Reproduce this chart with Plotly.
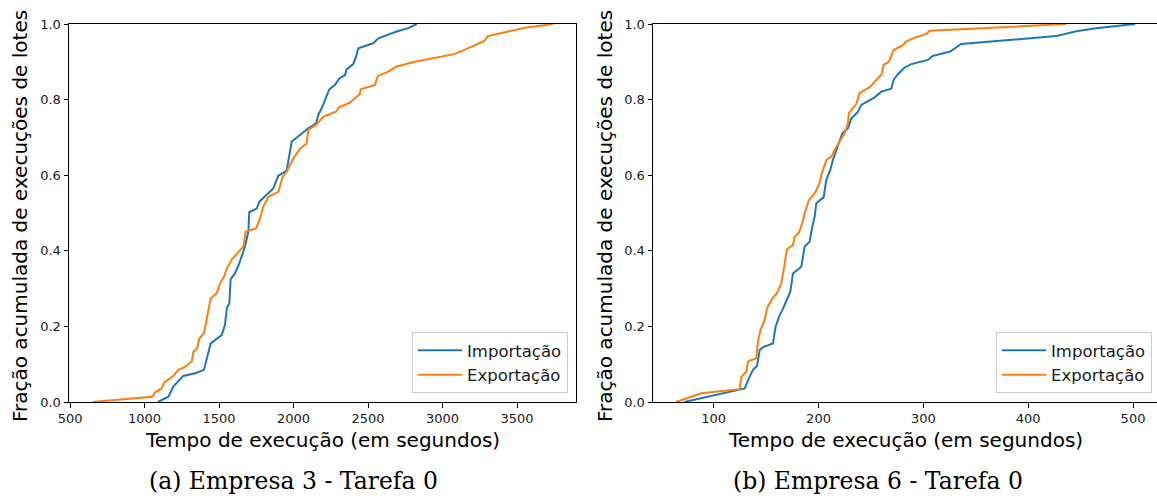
import plotly.graph_objects as go

# ---- Data ----
# (a) Empresa 3 - Tarefa 0
a_imp_x = [1090, 1160, 1193, 1260, 1340, 1399, 1421, 1444, 1518, 1540, 1552, 1569, 1578, 1607, 1636,
           1674, 1697, 1703, 1753, 1771, 1864, 1883, 1898, 1954, 1977, 1988, 2010, 2099, 2151, 2167,
           2189, 2218, 2240, 2279, 2307, 2346, 2356, 2401, 2419, 2435, 2535, 2569, 2625, 2692, 2770, 2827]
a_imp_y = [0.0, 0.014, 0.041, 0.069, 0.076, 0.085, 0.120, 0.155, 0.177, 0.204, 0.248, 0.261, 0.325, 0.340, 0.367,
           0.411, 0.451, 0.502, 0.512, 0.530, 0.565, 0.587, 0.599, 0.612, 0.658, 0.689, 0.696, 0.724, 0.737, 0.760,
           0.777, 0.808, 0.827, 0.839, 0.856, 0.865, 0.880, 0.894, 0.913, 0.936, 0.949, 0.962, 0.971, 0.980, 0.989, 1.0]

a_exp_x = [650, 1052, 1075, 1115, 1131, 1193, 1227, 1272, 1317, 1328, 1354, 1368, 1399, 1417, 1444, 1484,
           1507, 1533, 1552, 1585, 1663, 1679, 1748, 1771, 1797, 1831, 1898, 1927, 1954, 1977, 1999, 2044,
           2088, 2099, 2151, 2200, 2285, 2307, 2379, 2446, 2451, 2547, 2565, 2636, 2688, 2815, 3084, 3196,
           3281, 3304, 3431, 3565, 3740]
a_exp_y = [0.0, 0.014, 0.027, 0.036, 0.051, 0.069, 0.085, 0.093, 0.107, 0.133, 0.142, 0.168, 0.182, 0.217, 0.274, 0.288,
           0.314, 0.331, 0.353, 0.377, 0.411, 0.451, 0.459, 0.481, 0.517, 0.543, 0.556, 0.596, 0.609, 0.627, 0.645, 0.670,
           0.684, 0.720, 0.733, 0.755, 0.768, 0.780, 0.792, 0.815, 0.827, 0.839, 0.862, 0.874, 0.887, 0.900, 0.921, 0.940,
           0.955, 0.968, 0.980, 0.991, 1.0]

# (b) Empresa 6 - Tarefa 0
b_imp_x = [72, 129.6, 134.3, 137.5, 141.3, 143.9, 147.7, 156.5, 159.1, 162.9, 165.5, 169.3, 173.1, 175.6,
           183.6, 186.7, 191.5, 194.1, 196.3, 197.9, 204.9, 207.4, 211.2, 213.7, 217, 219.4, 222.7, 228,
           231.3, 237.6, 240.8, 253.5, 259.9, 269.4, 271.6, 275.7, 282.1, 288.5, 304.3, 308.5, 325.6, 336.1,
           426.7, 445.8, 464.8, 502]
b_imp_y = [0.0, 0.036, 0.067, 0.085, 0.095, 0.138, 0.146, 0.155, 0.199, 0.230, 0.243, 0.270, 0.292, 0.340,
           0.358, 0.411, 0.424, 0.464, 0.490, 0.526, 0.542, 0.587, 0.614, 0.640, 0.667, 0.689, 0.711, 0.724,
           0.750, 0.768, 0.786, 0.806, 0.821, 0.829, 0.852, 0.867, 0.885, 0.894, 0.905, 0.915, 0.927, 0.947,
           0.968, 0.981, 0.989, 1.0]

b_exp_x = [64, 88.3, 124.8, 126.4, 131.2, 132.7, 140.7, 142.2, 144.5, 148.6, 150.8, 156, 160.3, 164.5,
           166.7, 169.9, 175.6, 177.2, 181.3, 184.5, 186.7, 190.8, 196.3, 201, 202.7, 207.4, 212.2, 215.3,
           220.1, 224.9, 228, 229, 236, 239.2, 248.7, 255.7, 260, 262, 267, 271.6, 280.5, 283, 290, 302.8,
           306, 436]
b_exp_y = [0.0, 0.023, 0.034, 0.067, 0.080, 0.107, 0.116, 0.160, 0.190, 0.217, 0.248, 0.274, 0.288, 0.314,
           0.349, 0.404, 0.415, 0.437, 0.448, 0.473, 0.499, 0.534, 0.552, 0.579, 0.601, 0.640, 0.649, 0.667,
           0.689, 0.711, 0.737, 0.764, 0.788, 0.817, 0.833, 0.852, 0.866, 0.892, 0.900, 0.931, 0.944, 0.953,
           0.962, 0.974, 0.982, 1.0]

series_names = ["Importação", "Exportação"]
y_ticks = [0.0, 0.2, 0.4, 0.6, 0.8, 1.0]
a_x_ticks = [500, 1000, 1500, 2000, 2500, 3000, 3500]
b_x_ticks = [100, 200, 300, 400, 500]
x_title = "Tempo de execução (em segundos)"
y_title = "Fração acumulada de execuções de lotes"
captions = ["(a) Empresa 3 - Tarefa 0", "(b) Empresa 6 - Tarefa 0"]

BLUE = "#1f77b4"
ORANGE = "#ff7f0e"
W, H = 1157, 498

fig = go.Figure()

def add(x, y, name, color, xa, ya, legend):
    fig.add_trace(go.Scatter(x=x, y=y, mode="lines", name=name,
                             line=dict(color=color, width=2),
                             xaxis=xa, yaxis=ya, legend=legend))

add(a_imp_x, a_imp_y, series_names[0], BLUE, "x", "y", "legend")
add(a_exp_x, a_exp_y, series_names[1], ORANGE, "x", "y", "legend")
add(b_imp_x, b_imp_y, series_names[0], BLUE, "x2", "y2", "legend2")
add(b_exp_x, b_exp_y, series_names[1], ORANGE, "x2", "y2", "legend2")

def px_y(p):
    return (H - p) / H

def px_x(p):
    return p / W

y0 = px_y(402)
y1 = px_y(24)
axL = (px_x(69), px_x(576))
axR = (px_x(653), px_x(1156.5))

axis_common = dict(showline=True, linecolor="black", linewidth=1, mirror=True,
                   ticks="outside", ticklen=4.5, tickcolor="black", showgrid=False,
                   zeroline=False, automargin=False,
                   tickfont=dict(family="DejaVu Sans", size=13, color="#1a1a1a"))

legend_common = dict(xanchor="right", yanchor="bottom", itemwidth=44,
                     bgcolor="rgba(255,255,255,0.8)", bordercolor="#cccccc", borderwidth=1,
                     font=dict(family="DejaVu Sans", size=16.5, color="#1a1a1a"), tracegroupgap=0)

fig.update_layout(
    width=W, height=H,
    margin=dict(l=0, r=0, t=0, b=0, pad=0, autoexpand=False),
    paper_bgcolor="white", plot_bgcolor="white",
    xaxis=dict(domain=list(axL), range=[493, 3896], tickvals=a_x_ticks, anchor="y", **axis_common),
    yaxis=dict(domain=[y0, y1], range=[0, 1], tickvals=y_ticks, ticktext=[f"{v:.1f}" for v in y_ticks],
               anchor="x", **axis_common),
    xaxis2=dict(domain=list(axR), range=[42.1, 522.4], tickvals=b_x_ticks, anchor="y2", **axis_common),
    yaxis2=dict(domain=[y0, y1], range=[0, 1], tickvals=y_ticks, ticktext=[f"{v:.1f}" for v in y_ticks],
                anchor="x2", **axis_common),
    legend=dict(x=px_x(568), y=px_y(393), **legend_common),
    legend2=dict(x=px_x(1152), y=px_y(393), **legend_common),
    showlegend=True,
)

ann_font = dict(family="DejaVu Sans", size=20, color="black")
cap_font = dict(family="DejaVu Serif", size=23.5, color="black")
for cx, capx, cap in [((69 + 576) / 2, 293, captions[0]), ((653 + 1157) / 2, 878, captions[1])]:
    fig.add_annotation(x=px_x(cx), y=px_y(440), xref="paper", yref="paper", text=x_title,
                       showarrow=False, font=ann_font, xanchor="center", yanchor="middle")
    fig.add_annotation(x=px_x(capx), y=px_y(481), xref="paper", yref="paper", text=cap,
                       showarrow=False, font=cap_font, xanchor="center", yanchor="middle")
for yx in [20, 605]:
    fig.add_annotation(x=px_x(yx), y=px_y(216), xref="paper", yref="paper", text=y_title,
                       showarrow=False, font=ann_font, textangle=-90, xanchor="center", yanchor="middle")

fig.write_html("out.html", config={"displayModeBar": False},
               post_script="document.body.style.margin='0px';document.body.style.overflow='hidden';")
